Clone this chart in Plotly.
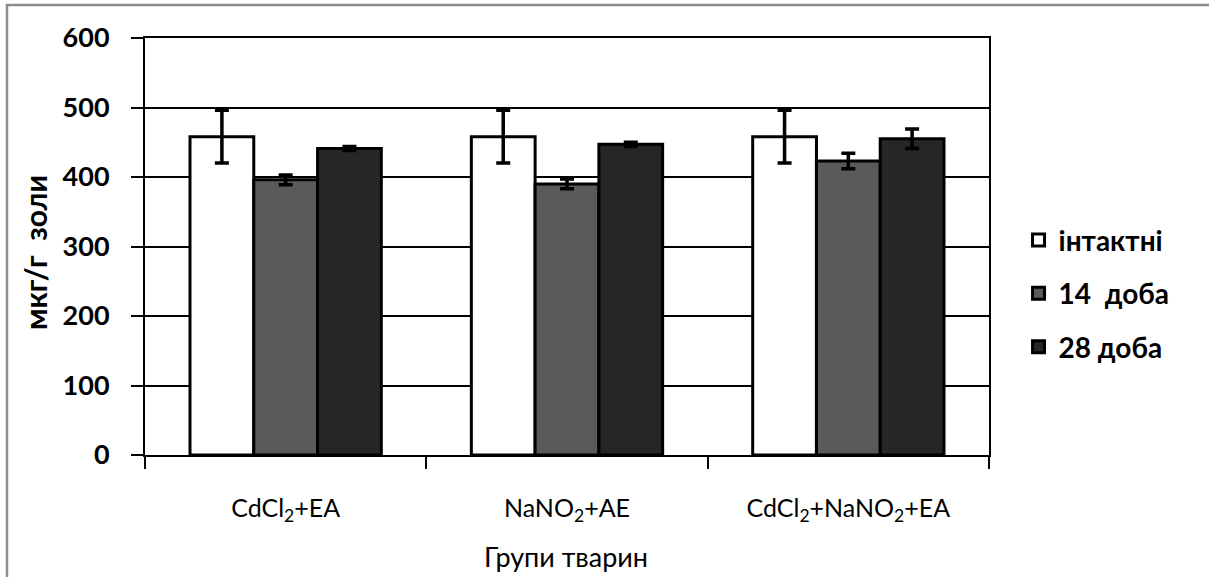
import plotly.graph_objects as go

# Groups of animals and measured content (mean ± error), мкг/г золи
groups = ["CdCl<sub>2</sub>+EA", "NaNO<sub>2</sub>+AE", "CdCl<sub>2</sub>+NaNO<sub>2</sub>+EA"]
series_names = ["інтактні", "14  доба", "28 доба"]
intact = [458, 458, 458]
intact_err = [38, 38, 38]
day14 = [396, 390, 423]
day14_err = [7, 7, 11]
day28 = [441, 447, 455]
day28_err = [3, 3, 14]
y_ticks = [0, 100, 200, 300, 400, 500, 600]

fill_colors = ["#ffffff", "#5a5a5a", "#262626"]
values = [intact, day14, day28]
errors = [intact_err, day14_err, day28_err]

FONT = "Lato"

fig = go.Figure()
for name, vals, errs, col in zip(series_names, values, errors, fill_colors):
    fig.add_trace(go.Bar(
        x=groups, y=vals, name=name, legendgroup=name,
        marker=dict(color=col, line=dict(color="#000000", width=3)),
        error_y=dict(type="data", array=errs, visible=True,
                     color="#000000", thickness=3.5, width=7),
    ))

W, H = 1209, 577
L, R, T, B = 145, 1209 - 989, 38, 577 - 455
PW, PH = W - L - R, 455 - 38

fig.update_layout(
    width=W, height=H,
    margin=dict(l=L, r=R, t=T, b=B),
    paper_bgcolor="#ffffff", plot_bgcolor="#ffffff",
    barmode="group", bargap=0.32, bargroupgap=0,
    font=dict(family=FONT, color="#000000"),
    showlegend=True,
    legend=dict(x=1.035, xanchor="left", y=0.575, yanchor="top",
                font=dict(family=FONT, size=28, color="#000000", weight="bold"),
                tracegroupgap=14, itemwidth=30, bgcolor="rgba(0,0,0,0)"),
    xaxis=dict(
        showline=True, linecolor="#000000", linewidth=2, mirror=True,
        ticks="outside", ticklen=12, tickwidth=2, tickcolor="#000000",
        tickson="boundaries", ticklabelstandoff=30,
        tickfont=dict(family=FONT, size=25, color="#000000"),
        showgrid=False,
    ),
    yaxis=dict(
        range=[0, 600], tickvals=y_ticks,
        showline=True, linecolor="#000000", linewidth=2, mirror=True,
        ticks="outside", ticklen=12, tickwidth=2, tickcolor="#000000",
        ticklabelstandoff=16,
        tickfont=dict(family=FONT, size=27, color="#000000", weight="bold"),
        showgrid=True, gridcolor="#000000", gridwidth=1.5,
        zeroline=False,
    ),
    shapes=[dict(type="rect", xref="paper", yref="paper",
                 x0=(7 - L) / PW, x1=(W + 10 - L) / PW,
                 y0=-(H + 10 - 455) / PH, y1=1 + (38 - 5) / PH,
                 line=dict(color="#8c8c8c", width=2.5), layer="below")],
    annotations=[
        dict(text="мкг/г  золи", xref="paper", yref="paper",
             x=(35 - L) / PW, y=(455 - 252) / PH,
             textangle=-90, showarrow=False, xanchor="center", yanchor="middle",
             font=dict(family=FONT, size=30, color="#000000", weight="bold")),
        dict(text="Групи тварин", xref="paper", yref="paper",
             x=(566 - L) / PW, y=-(556 - 455) / PH,
             showarrow=False, xanchor="center", yanchor="middle",
             font=dict(family=FONT, size=27, color="#000000")),
    ],
)

fig.write_html("out.html")
